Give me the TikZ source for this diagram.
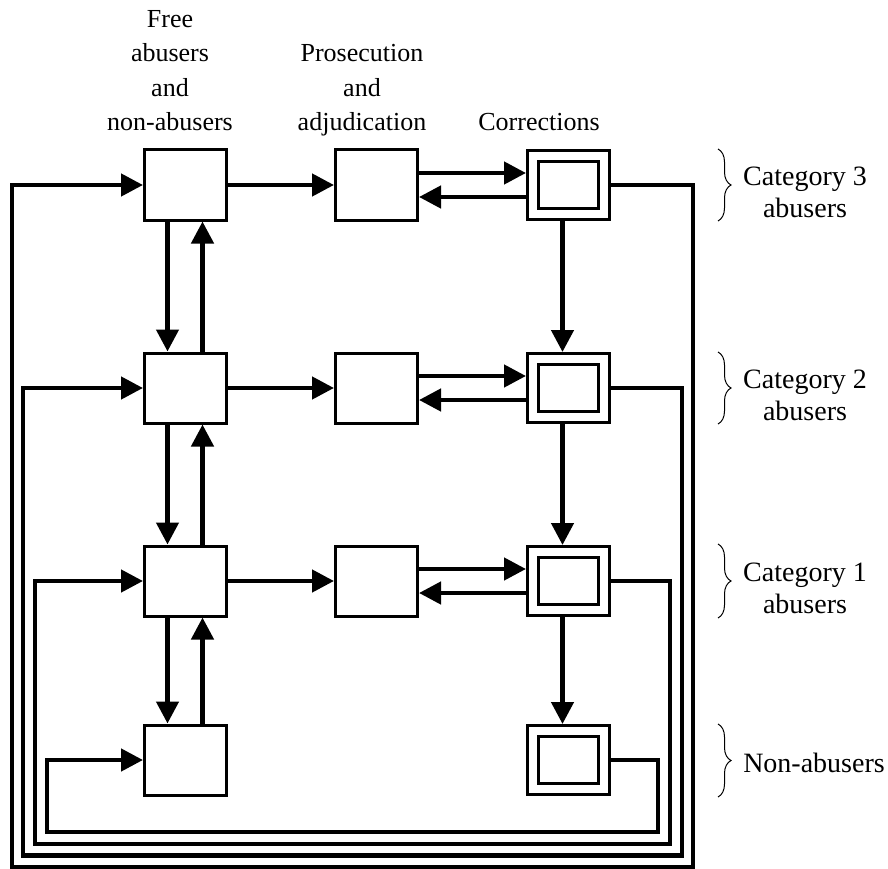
\documentclass[tikz,border=0pt]{standalone}
\usepackage{fontspec}
\setmainfont{Liberation Serif}
\usetikzlibrary{positioning}
\usetikzlibrary{arrows.meta}
\usetikzlibrary{decorations.pathreplacing}

\begin{document}
\begin{tikzpicture}[x = 1pt, y = -1pt]
  \tikzstyle{stage}=[
      rectangle, minimum width = 82pt, minimum height = 70pt
    , draw = black, line width = 3pt
    , inner sep = 0pt, outer sep = 1.5pt
    ]
  \tikzstyle{prison}=[
      rectangle, minimum width = 71pt, minimum height = 58pt
    , draw = black, line width = 3pt, double, double distance = 8pt
    , inner sep = 0pt, outer sep = 7pt
    ]
  \tikzstyle{connect}=[-{Triangle[length = 22pt, width = 22pt]}, line width = 4.5pt]
  \tikzstyle{heading}=[
      align = center, inner sep = 0pt, anchor = base
    , font = \fontsize{26}{34.5}\selectfont
    ]
  \tikzstyle{group}=[
      align = center, inner sep = 0pt, anchor = base
    , font = \fontsize{28}{32}\selectfont
    ]
  \tikzstyle{bracket}=[decorate, decoration = {brace, amplitude = 13pt}, line width = 1pt]

  \useasboundingbox (0, 0) rectangle (888, 869);

  \node[heading] (freehead) at (170, 131) {Free\\abusers\\and\\non-abusers};
  \node[heading] (courthead) at (362, 131) {Prosecution\\and\\adjudication};
  \node[heading] (jailhead) at (539, 131) {Corrections};

  \node[stage] (free3) at (185.5, 185) { };
  \node[stage] (court3) at (376.5, 185) { };
  \node[prison] (jail3) at (568.5, 185) { };

  \node[stage] (free2) at (185.5, 388) { };
  \node[stage] (court2) at (376.5, 388) { };
  \node[prison] (jail2) at (568.5, 388) { };

  \node[stage] (free1) at (185.5, 581) { };
  \node[stage] (court1) at (376.5, 581) { };
  \node[prison] (jail1) at (568.5, 581) { };

  \node[stage] (free0) at (185.5, 760) { };
  \node[prison] (jail0) at (568.5, 760) { };

  \path (free3) edge [connect] (court3);
  \path (free2) edge [connect] (court2);
  \path (free1) edge [connect] (court1);

  \draw [connect] ([yshift = 12pt]court3.east) -- ([yshift = 12pt]jail3.west);
  \draw [connect] ([yshift = -12pt]jail3.west) -- ([yshift = -12pt]court3.east);
  \draw [connect] ([yshift = 12pt]court2.east) -- ([yshift = 12pt]jail2.west);
  \draw [connect] ([yshift = -12pt]jail2.west) -- ([yshift = -12pt]court2.east);
  \draw [connect] ([yshift = 12pt]court1.east) -- ([yshift = 12pt]jail1.west);
  \draw [connect] ([yshift = -12pt]jail1.west) -- ([yshift = -12pt]court1.east);

  \draw [connect] ([xshift = -18pt]free3.south) -- ([xshift = -18pt]free2.north);
  \draw [connect] ([xshift = 17pt]free2.north) -- ([xshift = 17pt]free3.south);
  \draw [connect] ([xshift = -18pt]free2.south) -- ([xshift = -18pt]free1.north);
  \draw [connect] ([xshift = 17pt]free1.north) -- ([xshift = 17pt]free2.south);
  \draw [connect] ([xshift = -18pt]free1.south) -- ([xshift = -18pt]free0.north);
  \draw [connect] ([xshift = 17pt]free0.north) -- ([xshift = 17pt]free1.south);

  \draw [connect] ([xshift = -6pt]jail3.south) -- ([xshift = -6pt]jail2.north);
  \draw [connect] ([xshift = -6pt]jail2.south) -- ([xshift = -6pt]jail1.north);
  \draw [connect] ([xshift = -6pt]jail1.south) -- ([xshift = -6pt]jail0.north);

  % release back to the free population
  \draw [connect] (jail3.east) -- ++(82, 0) |- (12, 867) |- (free3.west);
  \draw [connect] (jail2.east) -- ++(71, 0) |- (23, 855.5) |- (free2.west);
  \draw [connect] (jail1.east) -- ++(59, 0) |- (35, 844) |- (free1.west);
  \draw [connect] (jail0.east) -- ++(47, 0) |- (47, 832) |- (free0.west);

  \draw [bracket] (718, 149) -- (718, 221);
  \draw [bracket] (718, 352) -- (718, 424);
  \draw [bracket] (718, 544) -- (718, 618);
  \draw [bracket] (718, 724) -- (718, 797);

  \node[group] (cat3) at (805, 217) {Category 3\\abusers};
  \node[group] (cat2) at (805, 420) {Category 2\\abusers};
  \node[group] (cat1) at (805, 613) {Category 1\\abusers};
  \node[group] (cat0) at (814, 772) {Non-abusers};

\end{tikzpicture}
\end{document}
